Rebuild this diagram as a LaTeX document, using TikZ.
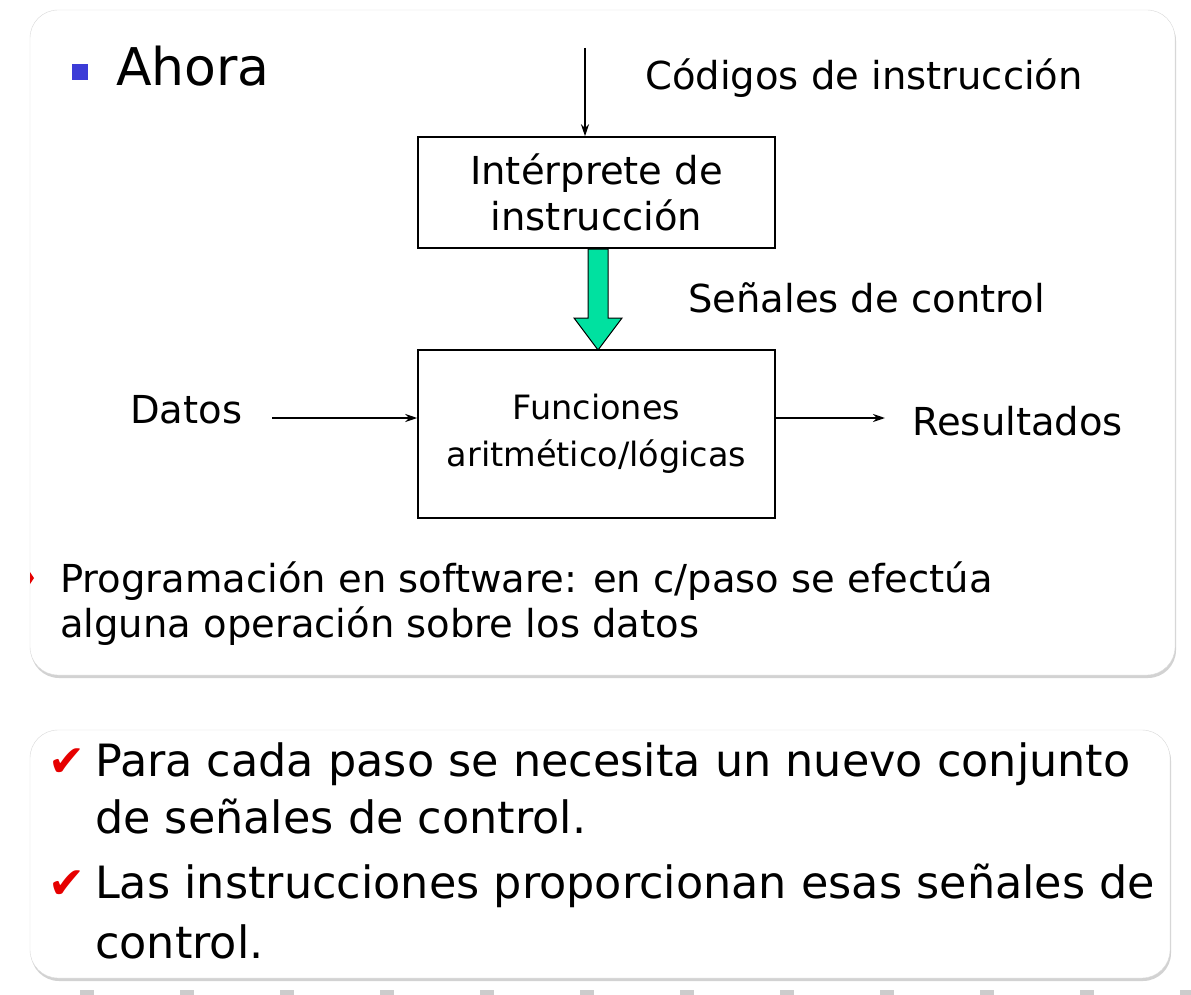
\documentclass[tikz,border=0pt]{standalone}
\usepackage{fontspec}
\setmainfont{DejaVu Sans}
\usetikzlibrary{arrows.meta,shadows}
\definecolor{mint}{RGB}{0,225,160}
\definecolor{chk}{RGB}{230,0,0}
\definecolor{bul}{RGB}{60,60,215}
\tikzset{
 panel/.style={draw=gray!30,fill=white,rounded corners=28pt,drop shadow={shadow xshift=1pt,shadow yshift=-3pt,opacity=0.35}},
 blk/.style={draw,line width=1.5pt,fill=white,minimum width=357pt,align=center,inner sep=0},
 arr/.style={-{Stealth[length=12pt,width=8pt]},line width=2pt},
 lbl/.style={anchor=base west,inner sep=0,font=\fontsize{38.5}{44}\selectfont},
 big/.style={anchor=base west,inner sep=0,font=\fontsize{44.5}{50}\selectfont},
 chkm/.style={anchor=base west,inner sep=0,font=\fontsize{44}{50}\selectfont,text=chk}
}
\begin{document}
\begin{tikzpicture}[x=1pt,y=-1pt]
\useasboundingbox (0,0) rectangle (1191,995);
\fill[white] (0,0) rectangle (1191,995);
\draw[gray!40,line width=5pt,dash pattern=on 14pt off 86pt] (80,992)--(1191,992);
\path[panel] (30,10) rectangle (1175,675);
\path[panel] (30,730) rectangle (1170,978);
\fill[bul] (72,64) rectangle (88,80);
\node[anchor=base west,inner sep=0,font=\fontsize{52}{60}\selectfont] (ahora) at (116,86) {Ahora};
\node[lbl] (cod) at (645,90) {Códigos de instrucción};
\node[blk,minimum height=111pt,font=\fontsize{38.5}{46}\selectfont] (b1) at (596.5,192.5) {Intérprete de\\instrucción};
\coordinate (top) at (585,48);
\draw[arr] (top) -- (top|-b1.north);
\node[blk,minimum height=168pt,font=\fontsize{33.5}{47}\selectfont] (b2) at (596.5,434) {Funciones\\aritmético/lógicas};
\draw[line width=1pt,fill=mint] (588,249)--(608,249)--(608,318)--(622,318)--(598,350)--(574,318)--(588,318)--cycle;
\node[lbl] (sen) at (688,312) {Señales de control};
\node[lbl] (dat) at (130,423) {Datos};
\node[lbl] (res) at (912,435) {Resultados};
\coordinate (din) at (272,418);
\draw[arr] (din) -- (din-|b2.west);
\coordinate (dout) at (885,418);
\draw[arr] (dout-|b2.east) -- (dout);
\fill[chk] (30,572) -- (34,578) -- (30,584) -- cycle;
\node[anchor=base west,inner sep=0,font=\fontsize{38.5}{45}\selectfont] (prog) at (60,592) {Programación en software: en c/paso se efectúa};
\node[anchor=base west,inner sep=0,font=\fontsize{38.5}{45}\selectfont] (prog2) at (60,637) {alguna operación sobre los datos};
\node[chkm] (c1) at (48,776) {✔};
\node[big] (t1) at (95,776) {Para cada paso se necesita un nuevo conjunto};
\node[big] (t1b) at (95,833) {de señales de control.};
\node[chkm] (c2) at (48,898) {✔};
\node[big] (t2) at (95,898) {Las instrucciones proporcionan esas señales de};
\node[big] (t2b) at (95,958) {control.};
\end{tikzpicture}
\end{document}
